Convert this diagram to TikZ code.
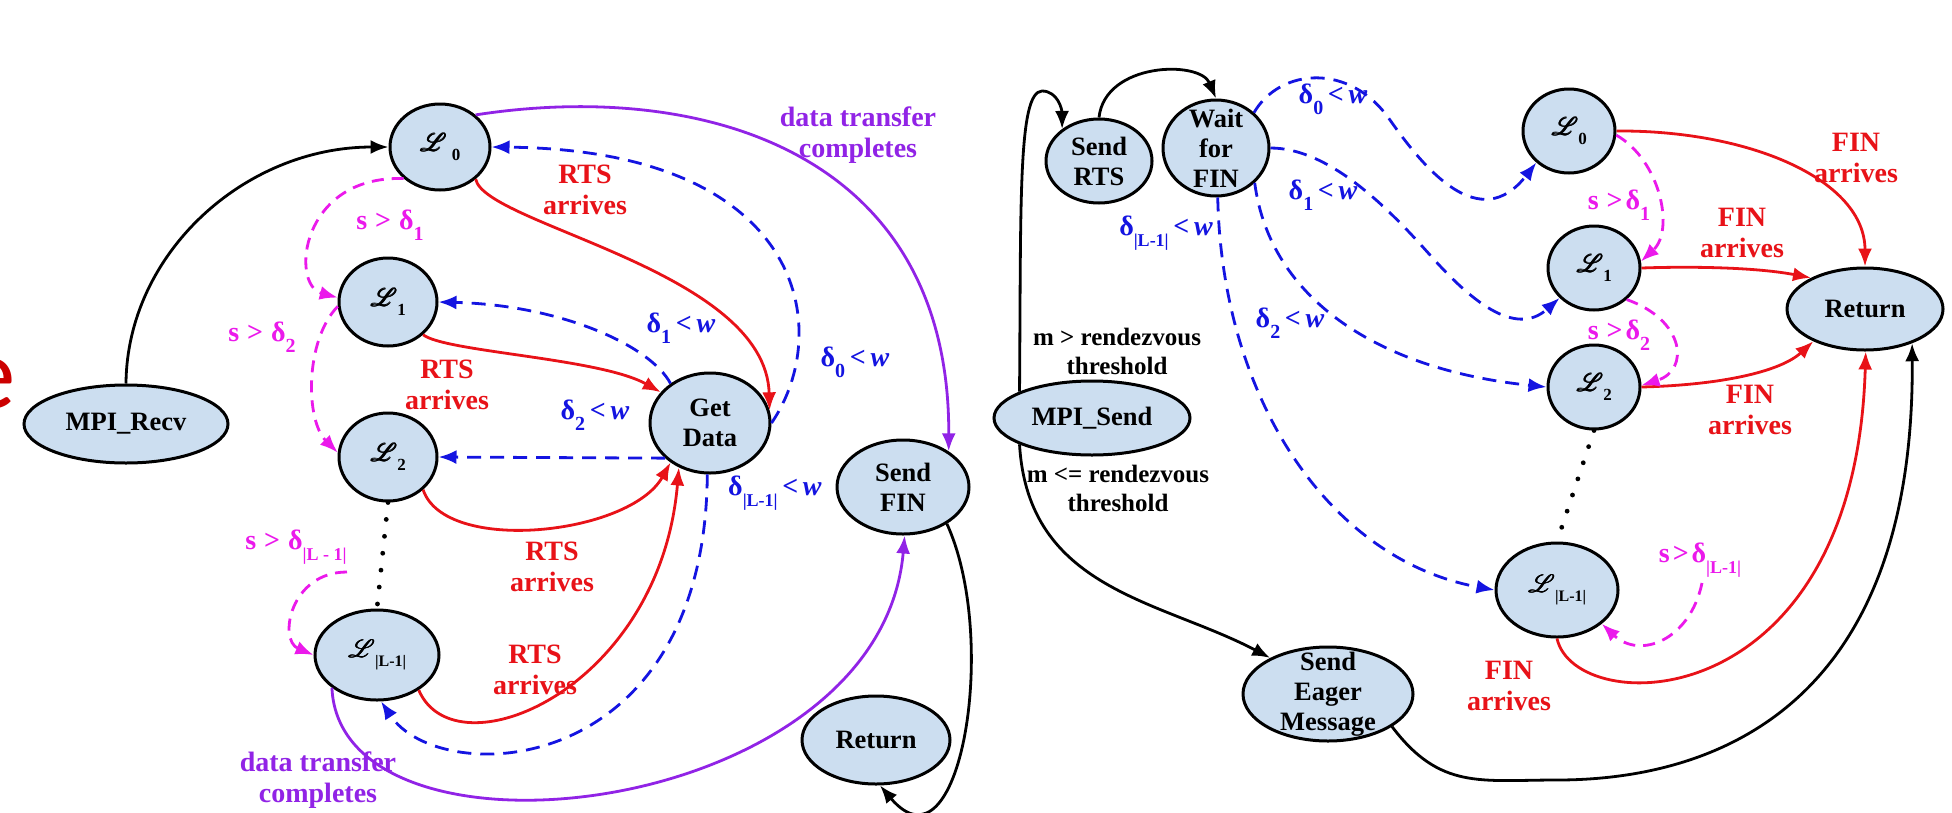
\documentclass[tikz,border=0pt]{standalone}
\usepackage{fontspec}
\setmainfont{Liberation Serif}
\newfontfamily\efont{Carlito}
\usepackage{mathrsfs}
\usetikzlibrary{shapes.geometric,arrows.meta}

\definecolor{nodefill}{RGB}{204,222,240}
\definecolor{arrred}{RGB}{232,18,24}
\definecolor{arrblue}{RGB}{20,20,225}
\definecolor{arrmag}{RGB}{235,25,235}
\definecolor{arrpur}{RGB}{145,35,230}
\definecolor{slidered}{RGB}{204,0,0}

\newcommand{\nodefont}{\fontsize{26.5}{30}\selectfont\bfseries}
\newcommand{\lblfont}{\fontsize{28}{31}\selectfont\bfseries}
\newcommand{\condfont}{\fontsize{25}{29}\selectfont\bfseries}
% lowered subscript for edge labels
\newcommand{\sbs}[2][20]{\raisebox{-0.38em}{\fontsize{#1}{#1}\selectfont #2}}
% heavier script L: the glyph set three times with small offsets
\newcommand{\heavyL}{\rlap{$\mathscr{L}$}\rlap{\hspace{0.8pt}$\mathscr{L}$}\rlap{\raisebox{0.6pt}{\hspace{0.4pt}$\mathscr{L}$}}\hspace{0.8pt}$\mathscr{L}$}
% script L with a lowered subscript, for the level states
\newcommand{\Lsym}[3][0pt]{{\fontsize{27}{27}\selectfont\heavyL}\hspace{#1}\raisebox{-0.35em}{\fontsize{#3}{#3}\selectfont\bfseries #2}}

\tikzset{
  state/.style={ellipse, draw=black, line width=3pt, fill=nodefill,
    inner sep=0pt, align=center, font=\nodefont},
  ntext/.style={align=center, font=\nodefont, inner sep=0pt},
  elabel/.style={align=center, inner sep=0pt, font=\lblfont},
  conn/.style={line width=2.8pt, -{Latex[length=18pt,width=14pt]}},
  cblack/.style={conn, draw=black},
  cred/.style={conn, draw=arrred},
  cpurple/.style={conn, draw=arrpur},
  cblue/.style={conn, draw=arrblue, dash pattern=on 14pt off 9pt},
  cmag/.style={conn, draw=arrmag, dash pattern=on 12pt off 8pt},
  dotline/.style={draw=black, line width=4.8pt, line cap=round, dash pattern=on 0pt off 17pt}
}

\begin{document}
\begin{tikzpicture}[x=1pt,y=-1pt]
\useasboundingbox (0,0) rectangle (1952,812);
\fill[white] (0,0) rectangle (1952,812);

% letter cut off at the left edge
\node[text=slidered, font=\efont\fontsize{103}{103}\selectfont, anchor=base east, inner sep=0pt] (slide) at (16,408) {e};

% ---------------- receiver side ----------------
\node[state, minimum width=204pt, minimum height=78pt] (recv) at (126,424) {MPI\_Recv};
\node[state, minimum width=100pt, minimum height=86pt] (L0) at (440,147) {\Lsym[5pt]{0}{17}};
\node[state, minimum width=98pt, minimum height=88pt] (L1) at (388,302) {\Lsym{1}{17}};
\node[state, minimum width=98pt, minimum height=88pt] (L2) at (388,457) {\Lsym{2}{17}};
\node[state, minimum width=124pt, minimum height=90pt] (LL) at (377,655) {\Lsym{|L-1|}{16}};
\node[state, minimum width=120pt, minimum height=100pt] (gd) at (710,423) {Get\\Data};
\node[state, minimum width=132pt, minimum height=94pt] (sf) at (903,487) {Send\\FIN};
\node[state, minimum width=148pt, minimum height=88pt] (ret) at (876,740) {Return};

\draw[cblack] (recv.north) .. controls (127,254) and (244,147) .. (L0.west);
\draw[cred] (L0.-42) .. controls (485,225) and (766,270) .. (gd.12);
\draw[cblue] (gd.0) .. controls (835,330) and (805,150) .. (L0.east);
\draw[cred] (L1.-43) .. controls (445,352) and (600,358) .. (gd.148);
\draw[cblue] (gd.135) .. controls (650,345) and (560,305) .. (L1.east);
\draw[cblue] (gd.-142) -- (L2.east);
\draw[cred] (L2.-43) .. controls (445,555) and (630,535) .. (gd.-135);
\draw[cred] (LL.-40) .. controls (455,775) and (660,690) .. (gd.-125);
\draw[cblue] (gd.-93) .. controls (705,780) and (440,790) .. (LL.-85);
\draw[cpurple] (L0.42) .. controls (700,80) and (950,150) .. (sf.38);
\draw[cpurple] (LL.-144) .. controls (340,880) and (880,820) .. (sf.-88);
\draw[cblack] (sf.-40) .. controls (1000,640) and (960,880) .. (ret.-85);
\draw[cmag] (L0.-139) .. controls (300,175) and (290,285) .. (L1.175);
\draw[cmag] (L1.185) .. controls (305,340) and (305,420) .. (L2.175);
\draw[dotline] (L2.south) -- (LL.north);
\coordinate (mLLs) at (347,572);
\draw[cmag] (mLLs) .. controls (290,572) and (278,640) .. (LL.west);

\node[elabel, text=arrpur] (lt1) at (858,135) {data transfer\\completes};
\node[elabel, text=arrpur] (lt2) at (318,780) {data transfer\\completes};
\node[elabel, text=arrred] (lr0) at (585,190) {RTS\\arrives};
\node[elabel, text=arrred] (lr1) at (447,385) {RTS\\arrives};
\node[elabel, text=arrred] (lr2) at (552,567) {RTS\\arrives};
\node[elabel, text=arrred] (lr3) at (535,670) {RTS\\arrives};
\node[elabel, text=arrmag] (lm1) at (390,225) {s\hspace{8pt}>\hspace{8pt}δ\sbs{1}};
\node[elabel, text=arrmag] (lm2) at (262,337) {s\hspace{8pt}>\hspace{8pt}δ\sbs{2}};
\node[elabel, text=arrmag] (lm3) at (296,547) {s\hspace{8pt}>\hspace{8pt}δ\sbs[18]{|L - 1|}};
\node[elabel, text=arrblue] (lb0) at (855,362) {δ\sbs{0}\,<\,\textit{w}};
\node[elabel, text=arrblue] (lb1) at (681,328) {δ\sbs{1}\,<\,\textit{w}};
\node[elabel, text=arrblue] (lb2) at (595,415) {δ\sbs{2}\,<\,\textit{w}};
\node[elabel, text=arrblue] (lb3) at (775,493) {δ\sbs[18]{|L-1|}\,<\,\textit{w}};

% ---------------- sender side ----------------
\node[state, minimum width=196pt, minimum height=74pt] (ms) at (1092,418) {MPI\_Send};
\node[state, minimum width=106pt, minimum height=84pt] (rts) at (1099,161) {Send\\RTS};
\node[state, minimum width=106pt, minimum height=96pt, label={[ntext]center:Wait\\for\\FIN}] (wf) at (1216,148) {};
\node[state, minimum width=170pt, minimum height=94pt, label={[ntext]center:Send\\Eager\\Message}] (eg) at (1328,694) {};
\node[state, minimum width=92pt, minimum height=84pt] (rL0) at (1569,131) {\Lsym{0}{17}};
\node[state, minimum width=92pt, minimum height=84pt] (rL1) at (1594,268) {\Lsym{1}{17}};
\node[state, minimum width=92pt, minimum height=84pt] (rL2) at (1594,387) {\Lsym{2}{17}};
\node[state, minimum width=122pt, minimum height=94pt] (rLL) at (1557,590) {\Lsym{|L-1|}{16}};
\node[state, minimum width=156pt, minimum height=82pt] (rret) at (1865,309) {Return};

\draw[cblack] (ms.160) .. controls (1021,200) and (1018,92) .. (1042,91) .. controls (1058,91) and (1062,110) .. (rts.139);
\draw[cblack] (ms.-160) .. controls (1028,590) and (1160,600) .. (eg.148);
\draw[cblack] (rts.north) .. controls (1105,62) and (1200,60) .. (wf.north);
\draw[cblue] (wf.43) .. controls (1280,68) and (1350,62) .. (1390,120) .. controls (1425,170) and (1480,235) .. (rL0.-136);
\draw[cblue] (wf.0) .. controls (1330,148) and (1390,210) .. (1430,255) .. controls (1470,300) and (1515,338) .. (rL1.-139);
\draw[cblue] (wf.-42) .. controls (1270,300) and (1380,370) .. (rL2.west);
\draw[cblue] (wf.-88) .. controls (1222,400) and (1330,560) .. (rLL.west);
\draw[cred] (rL0.east) .. controls (1750,130) and (1865,180) .. (rret.north);
\draw[cred] (rL1.east) .. controls (1700,266) and (1760,268) .. (rret.150);
\draw[cred] (rL2.east) .. controls (1720,385) and (1780,372) .. (rret.-148);
\draw[cred] (rLL.south) .. controls (1575,720) and (1855,720) .. (rret.-89);
\draw[cblack] (eg.-27) .. controls (1440,790) and (1480,780) .. (1557,780) .. controls (1700,780) and (1915,720) .. (rret.-36);
\draw[cmag] (rL0.-5) .. controls (1660,160) and (1675,230) .. (rL1.8);
\draw[cmag] (rL1.-44) .. controls (1685,320) and (1690,370) .. (rL2.2);
\draw[dotline] (rL2.south) -- (rLL.north);
\coordinate (mrLLs) at (1702,583);
\draw[cmag] (mrLLs) .. controls (1690,640) and (1640,660) .. (rLL.-37);

\node[elabel, text=black, font=\condfont] (tm1) at (1117,351) {m > rendezvous\\threshold};
\node[elabel, text=black, font=\condfont] (tm2) at (1118,488) {m <= rendezvous\\threshold};
\node[elabel, text=arrblue] (rb0) at (1333,99) {δ\sbs{0}\,<\,\textit{w}};
\node[elabel, text=arrblue] (rb1) at (1323,195) {δ\sbs{1}\,<\,\textit{w}};
\node[elabel, text=arrblue] (rb2) at (1290,323) {δ\sbs{2}\,<\,\textit{w}};
\node[elabel, text=arrblue] (rb3) at (1166,233) {δ\sbs[18]{|L-1|}\,<\,\textit{w}};
\node[elabel, text=arrred] (rf0) at (1856,158) {FIN\\arrives};
\node[elabel, text=arrred] (rf1) at (1742,233) {FIN\\arrives};
\node[elabel, text=arrred] (rf2) at (1750,410) {FIN\\arrives};
\node[elabel, text=arrred] (rf3) at (1509,686) {FIN\\arrives};
\node[elabel, text=arrmag] (rm1) at (1619,205) {s\hspace{8pt}>\hspace{3pt}δ\sbs{1}};
\node[elabel, text=arrmag] (rm2) at (1619,335) {s\hspace{8pt}>\hspace{3pt}δ\sbs{2}};
\node[elabel, text=arrmag] (rm3) at (1700,560) {s\hspace{3pt}>\hspace{3pt}δ\sbs[18]{|L-1|}};
\end{tikzpicture}
\end{document}
